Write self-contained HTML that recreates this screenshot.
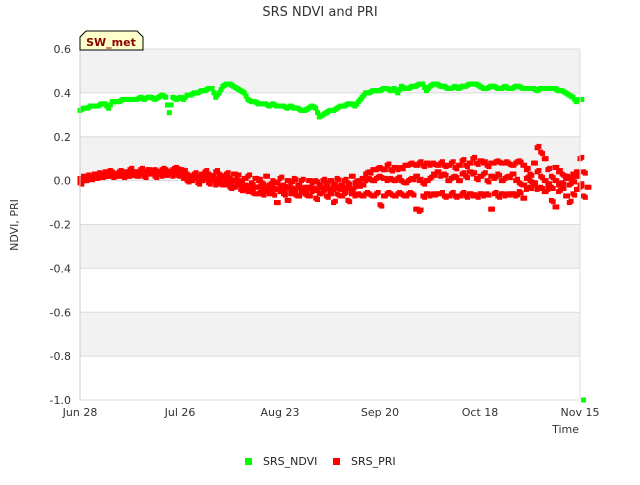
<!DOCTYPE html>
<html><head><meta charset="utf-8"><style>
body{margin:0;background:#fff;font-family:"Liberation Sans","DejaVu Sans",sans-serif}
svg text{font-family:"DejaVu Sans","Liberation Sans",sans-serif}
</style></head><body>
<svg id="chart" width="640" height="480" xmlns="http://www.w3.org/2000/svg">
<rect width="640" height="480" fill="#fff"/>
<g id="bands"></g><g id="grid"></g>
<g id="marks"></g>
<g id="axes"></g>
<text x="320" y="16" text-anchor="middle" font-size="13" fill="#333">SRS NDVI and PRI</text>
<text transform="translate(18,225) rotate(-90)" text-anchor="middle" font-size="11" fill="#333">NDVI, PRI</text>
<text x="579" y="433" text-anchor="end" font-size="11" fill="#333">Time</text>
<g>
<path d="M80,50 L80,37 L86,31 L137,31 L143,37 L143,50 Z" fill="#ffffcc" stroke="#000" stroke-width="1"/>
<text x="111" y="46" text-anchor="middle" font-size="11" font-weight="bold" fill="#8b0000">SW_met</text>
</g>
<g>
<rect x="245" y="458" width="7" height="7" fill="#00ff00"/>
<text x="263" y="465" font-size="11" fill="#222">SRS_NDVI</text>
<rect x="333" y="458" width="7" height="7" fill="#ff0000"/>
<text x="351" y="465" font-size="11" fill="#222">SRS_PRI</text>
</g>
</svg>
<script>
const xTickLabels=["Jun 28","Jul 26","Aug 23","Sep 20","Oct 18","Nov 15"];
const xTickDays=[0,28,56,84,112,140];
const yTicks=[0.6,0.4,0.2,0.0,-0.2,-0.4,-0.6,-0.8,-1.0];
const yTickLabels=["0.6","0.4","0.2","0.0","-0.2","-0.4","-0.6","-0.8","-1.0"];
const ndvi=[0.32,0.33,0.33,0.34,0.34,0.34,0.35,0.35,0.33,0.36,0.36,0.36,0.37,0.37,0.37,0.37,0.37,0.38,0.37,0.38,0.38,0.37,0.38,0.39,0.38,0.31,0.38,0.37,0.38,0.37,0.39,0.39,0.40,0.40,0.41,0.41,0.42,0.42,0.38,0.40,0.43,0.44,0.44,0.43,0.42,0.41,0.40,0.37,0.36,0.36,0.35,0.35,0.35,0.34,0.35,0.34,0.34,0.34,0.33,0.34,0.33,0.33,0.32,0.32,0.33,0.34,0.33,0.29,0.30,0.31,0.32,0.32,0.33,0.34,0.34,0.35,0.35,0.34,0.36,0.38,0.40,0.40,0.41,0.41,0.41,0.42,0.42,0.41,0.42,0.40,0.43,0.42,0.42,0.43,0.43,0.44,0.44,0.41,0.43,0.44,0.44,0.43,0.43,0.42,0.42,0.43,0.42,0.43,0.43,0.44,0.44,0.44,0.43,0.42,0.42,0.43,0.43,0.42,0.42,0.43,0.42,0.42,0.43,0.43,0.42,0.42,0.42,0.42,0.41,0.42,0.42,0.42,0.42,0.42,0.41,0.41,0.40,0.39,0.38,0.36,0.37,-1.0];
const priHigh=[0.00,0.01,0.02,0.02,0.03,0.02,0.03,0.04,0.03,0.04,0.03,0.04,0.04,0.03,0.05,0.04,0.04,0.05,0.04,0.05,0.04,0.05,0.04,0.05,0.05,0.04,0.05,0.06,0.05,0.04,0.03,0.02,0.03,0.02,0.03,0.04,0.03,0.02,0.04,0.03,0.02,0.03,0.01,0.03,0.02,0.00,0.01,0.02,-0.01,0.01,0.00,-0.01,0.02,-0.02,0.00,-0.01,0.01,-0.02,0.00,-0.01,0.01,-0.02,0.00,-0.03,0.00,-0.01,0.00,-0.02,0.00,-0.01,0.00,-0.02,0.01,-0.02,0.00,-0.01,0.02,-0.01,0.00,0.01,0.03,0.04,0.05,0.05,0.06,0.05,0.07,0.05,0.06,0.05,0.06,0.07,0.07,0.08,0.07,0.08,0.07,0.08,0.07,0.08,0.07,0.08,0.07,0.07,0.08,0.06,0.07,0.09,0.07,0.08,0.10,0.08,0.09,0.08,0.07,0.08,0.08,0.09,0.08,0.08,0.08,0.07,0.08,0.09,0.07,0.05,0.03,0.08,0.15,0.13,0.10,0.05,0.02,0.06,0.04,0.03,0.02,0.01,0.03,0.04,0.10,0.04];
const priLow=[-0.01,0.00,0.00,0.01,0.01,0.01,0.02,0.02,0.02,0.02,0.02,0.02,0.03,0.02,0.02,0.03,0.02,0.03,0.02,0.03,0.03,0.02,0.03,0.02,0.03,0.03,0.02,0.03,0.02,0.01,0.00,0.00,0.01,-0.01,0.00,0.01,-0.01,0.00,-0.02,-0.01,-0.02,-0.02,-0.03,-0.03,-0.02,-0.04,-0.04,-0.05,-0.05,-0.06,-0.06,-0.06,-0.05,-0.06,-0.06,-0.10,-0.05,-0.06,-0.09,-0.06,-0.06,-0.07,-0.05,-0.06,-0.07,-0.05,-0.08,-0.06,-0.05,-0.07,-0.06,-0.10,-0.06,-0.07,-0.06,-0.09,-0.06,-0.07,-0.06,-0.07,-0.06,-0.06,-0.07,-0.06,-0.11,-0.07,-0.06,-0.06,-0.07,-0.06,-0.06,-0.07,-0.06,-0.06,-0.13,-0.14,-0.07,-0.06,-0.07,-0.06,-0.06,-0.06,-0.07,-0.07,-0.06,-0.07,-0.07,-0.06,-0.07,-0.06,-0.07,-0.07,-0.06,-0.07,-0.06,-0.13,-0.06,-0.07,-0.06,-0.07,-0.06,-0.06,-0.07,-0.05,-0.08,-0.04,-0.03,-0.02,-0.04,-0.03,-0.05,-0.04,-0.09,-0.12,-0.05,-0.03,-0.07,-0.10,-0.06,-0.04,-0.03,-0.07,-0.03];
const priMid=[0.01,0.02,0.01,0.02,0.02,0.03,0.03,0.02,0.04,0.03,0.03,0.03,0.02,0.04,0.03,0.03,0.04,0.03,0.04,0.04,0.03,0.04,0.03,0.04,0.03,0.04,0.03,0.04,0.04,0.02,0.02,0.01,0.02,0.01,0.01,0.02,0.01,0.02,0.00,0.01,0.00,0.01,-0.01,0.00,-0.01,-0.02,-0.02,-0.03,-0.03,-0.03,-0.03,-0.04,-0.03,-0.04,-0.03,-0.04,-0.03,-0.04,-0.03,-0.04,-0.04,-0.03,-0.04,-0.04,-0.03,-0.04,-0.04,-0.03,-0.04,-0.03,-0.04,-0.04,-0.03,-0.04,-0.04,-0.03,-0.04,-0.03,-0.02,-0.02,0.00,0.01,0.00,0.01,0.02,0.01,0.00,0.01,0.00,0.01,0.00,-0.01,0.00,0.01,0.02,0.00,-0.01,0.00,0.01,0.03,0.04,0.02,0.03,0.00,0.01,0.02,0.00,0.03,0.02,0.04,0.03,0.01,0.02,0.03,0.00,0.02,0.01,0.03,0.00,0.01,0.02,0.03,0.00,-0.01,-0.02,0.01,0.00,-0.01,0.04,0.02,0.00,-0.02,-0.03,0.00,-0.02,-0.01,0.01,-0.02,0.00,0.02,-0.02];
const NS="http://www.w3.org/2000/svg";
const X0=80,X1=580,Y0=49,Y1=400,DAYS=140,VMAX=0.6,VMIN=-1.0;
function xs(d){return X0+d*(X1-X0)/DAYS;}
function ys(v){return Y0+(VMAX-v)*(Y1-Y0)/(VMAX-VMIN);}
function mk(tag,attrs,parent){const e=document.createElementNS(NS,tag);for(const k in attrs)e.setAttribute(k,attrs[k]);parent.appendChild(e);return e;}
const bands=document.getElementById('bands'),grid=document.getElementById('grid'),axes=document.getElementById('axes'),marks=document.getElementById('marks');
mk('rect',{x:X0,y:Y0,width:X1-X0,height:Y1-Y0,fill:'#fff'},bands);
for(let i=0;i<yTicks.length-1;i+=2){
 const r=mk('rect',{x:X0,y:ys(yTicks[i]),width:X1-X0,height:ys(yTicks[i+1])-ys(yTicks[i]),fill:'#f2f2f2'},bands);
 
 
}
yTicks.forEach((v,i)=>{
 const l=mk('line',{x1:X0,x2:X1,y1:ys(v),y2:ys(v),stroke:'#dcdcdc','stroke-width':1},grid);
 
 
 const t=mk('text',{x:X0-9,y:ys(v)+4,'text-anchor':'end','font-size':11,fill:'#333'},axes);
 
 
 t.textContent=yTickLabels[i];
});
mk('line',{x1:X0,x2:X0,y1:Y0,y2:Y1,stroke:'#ccc'},axes);
mk('line',{x1:X1,x2:X1,y1:Y0,y2:Y1,stroke:'#ddd'},axes);
xTickDays.forEach((d,i)=>{
 const t=mk('text',{x:xs(d),y:Y1+16,'text-anchor':'middle','font-size':11,fill:'#333'},axes);
 
 
 t.textContent=xTickLabels[i];
});
function sq(d,v,c,name){
 const r=mk('rect',{x:xs(d)-2.5,y:ys(v)-2.5,width:5,height:5,fill:c},marks);
 
 
}
[priHigh,priMid,priLow].forEach(arr=>arr.forEach((v,d)=>{sq(d,v,'#ff0000','pri-point');sq(d+0.5,v+((d%3)-1)*0.006,'#ff0000','pri-point');}));
ndvi.forEach((v,d)=>{sq(d,v,'#00ff00','ndvi-point');if(d<ndvi.length-1)sq(d+0.5,(v+ndvi[Math.min(d+1,ndvi.length-2)])/2,'#00ff00','ndvi-point');});
</script>
</body></html>
